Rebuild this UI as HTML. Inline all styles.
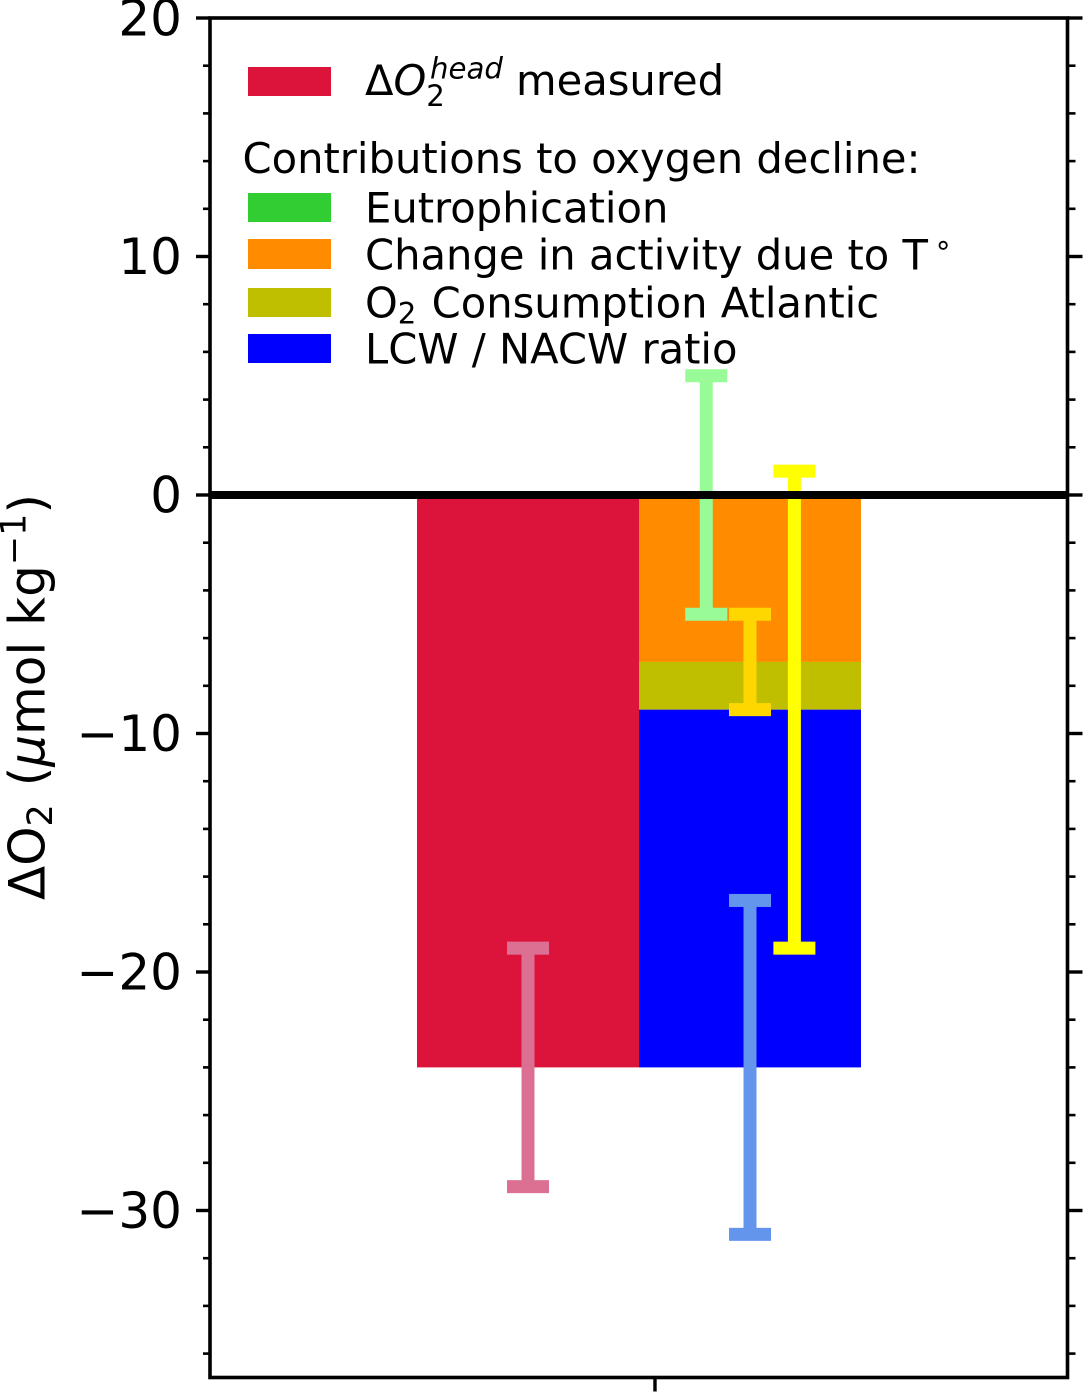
<!DOCTYPE html>
<html lang="en">
<head>
<meta charset="utf-8">
<title>Oxygen decline contributions</title>
<style>
html,body{margin:0;padding:0;background:#fff;width:1083px;height:1393px;overflow:hidden}
svg{display:block}
text{font-family:"DejaVu Sans","Liberation Sans",sans-serif;fill:#000}
.tick-label{font-size:50px;text-anchor:end}
.legend-text{font-size:41.67px}
.axis-title{font-size:50px}
</style>
</head>
<body>
<svg id="chart" width="1083" height="1393" viewBox="0 0 1083 1393" xmlns="http://www.w3.org/2000/svg">
  <g id="bars"></g>
  <g id="errors"></g>
  <g id="ticks"></g>
  <g id="frame"></g>

  <text class="axis-title" transform="translate(44.5,900) rotate(-90)">ΔO<tspan font-size="35" dy="7.5">2</tspan><tspan dx="2" dy="-7.5"> (</tspan><tspan font-style="italic">μ</tspan><tspan>mol kg</tspan><tspan font-size="35" dy="-19">−1</tspan><tspan dy="19">)</tspan></text>

  <g>
    <rect x="248" y="67" width="83" height="29" fill="#DC143C"/>
    <text class="legend-text" x="365" y="95">Δ<tspan font-style="italic">O</tspan><tspan font-size="29.2" dy="11">2</tspan><tspan font-size="29.2" font-style="italic" x="430" dy="-27.5">head</tspan><tspan x="516" dy="16.5">measured</tspan></text>
    <text class="legend-text" x="242.5" y="173">Contributions to oxygen decline:</text>
    <rect x="248" y="193" width="83" height="29" fill="#32CD32"/>
    <text class="legend-text" x="365" y="222.5">Eutrophication</text>
    <rect x="248" y="239" width="83" height="30" fill="#FF8C00"/>
    <text class="legend-text" x="365" y="269.5">Change in activity due to T<tspan font-size="29.2" dx="6" dy="-15">∘</tspan></text>
    <rect x="248" y="288" width="83" height="29" fill="#BFBF00"/>
    <text class="legend-text" x="365" y="317.5">O<tspan font-size="29.2" dy="6">2</tspan><tspan dx="2" dy="-6"> Consumption Atlantic</tspan></text>
    <rect x="248" y="334" width="83" height="29" fill="#0000FF"/>
    <text class="legend-text" x="365" y="363.5">LCW / NACW ratio</text>
  </g>
</svg>
<script>
// Chart data
const barNames = ['measured', 'eutrophication', 'temperature', 'consumption', 'ratio'];
const barCategory = [0, 1, 1, 1, 1];
const barValues = [-24, 0, -7, -2, -15];
const barColors = ['#DC143C', '#32CD32', '#FF8C00', '#BFBF00', '#0000FF'];
const errorNames = ['measured', 'eutrophication', 'temperature', 'consumption', 'ratio'];
const errorPositions = [0, 0.803, 1, 1.2, 1];
const errorLow = [-29, -5, -9, -19, -31];
const errorHigh = [-19, 5, -5, 1, -17];
const errorColors = ['#DB7093', '#98FB98', '#FFD700', '#FFFF00', '#6495ED'];
const majorTicks = [20, 10, 0, -10, -20, -30];
const majorTickLabels = ['20', '10', '0', '−10', '−20', '−30'];
const minorTicks = [18, 16, 14, 12, 8, 6, 4, 2, -2, -4, -6, -8, -12, -14, -16, -18, -22, -24, -26, -28, -32, -34, -36];
const xTicks = [0.572];

const NS = 'http://www.w3.org/2000/svg';
const left = 210, right = 1067.5, top_ = 18, bottom = 1377.5;
const yScale = v => 495 - v * 23.85;
const xScale = v => 528 + v * 222;
const barWidth = 222;

function make(tag, parent, attrs) {
  const el = document.createElementNS(NS, tag);
  for (const k in attrs) el.setAttribute(k, attrs[k]);
  parent.appendChild(el);
  return el;
}

const barsG = document.getElementById('bars');
let stack = 0;
barValues.forEach((v, i) => {
  const start = barCategory[i] === barCategory[i - 1] ? stack : 0;
  const end = start + v;
  stack = end;
  const r = make('rect', barsG, {
    x: xScale(barCategory[i]) - barWidth / 2,
    y: yScale(start),
    width: barWidth,
    height: yScale(end) - yScale(start),
    fill: barColors[i]
  });
  
  
});

const errG = document.getElementById('errors');
errorLow.forEach((lo, i) => {
  const g = make('g', errG, {fill: errorColors[i]});
  
  
  const cx = xScale(errorPositions[i]);
  const yHi = yScale(errorHigh[i]), yLo = yScale(lo);
  make('rect', g, {x: cx - 6.5, y: yHi, width: 13, height: yLo - yHi});
  make('rect', g, {x: cx - 21, y: yHi - 6.5, width: 42, height: 13});
  make('rect', g, {x: cx - 21, y: yLo - 6.5, width: 42, height: 13});
});

const ticksG = document.getElementById('ticks');
majorTicks.forEach((v, i) => {
  const y = yScale(v);
  const l = make('line', ticksG, {x1: 196, x2: left, y1: y, y2: y, stroke: '#000', 'stroke-width': 3.4});
  
  
  const r = make('line', ticksG, {x1: right, x2: right + 15, y1: y, y2: y, stroke: '#000', 'stroke-width': 3.4});
  
  
  const t = make('text', ticksG, {x: 182, y: y + 17.5, class: 'tick-label'});
  
  
  t.textContent = majorTickLabels[i];
});
minorTicks.forEach(v => {
  const y = yScale(v);
  const l = make('line', ticksG, {x1: 203, x2: left, y1: y, y2: y, stroke: '#000', 'stroke-width': 2.6});
  
  
  const r = make('line', ticksG, {x1: right, x2: right + 8, y1: y, y2: y, stroke: '#000', 'stroke-width': 2.6});
  
  
});
xTicks.forEach(v => {
  const x = xScale(v);
  const l = make('line', ticksG, {x1: x, x2: x, y1: bottom, y2: bottom + 14, stroke: '#000', 'stroke-width': 3.4});
  
  
});

const frameG = document.getElementById('frame');
const zero = make('line', frameG, {x1: left, x2: right, y1: yScale(0), y2: yScale(0), stroke: '#000', 'stroke-width': 8});


const box = make('rect', frameG, {x: left, y: top_, width: right - left, height: bottom - top_, fill: 'none', stroke: '#000', 'stroke-width': 3.6});


</script>
</body>
</html>
